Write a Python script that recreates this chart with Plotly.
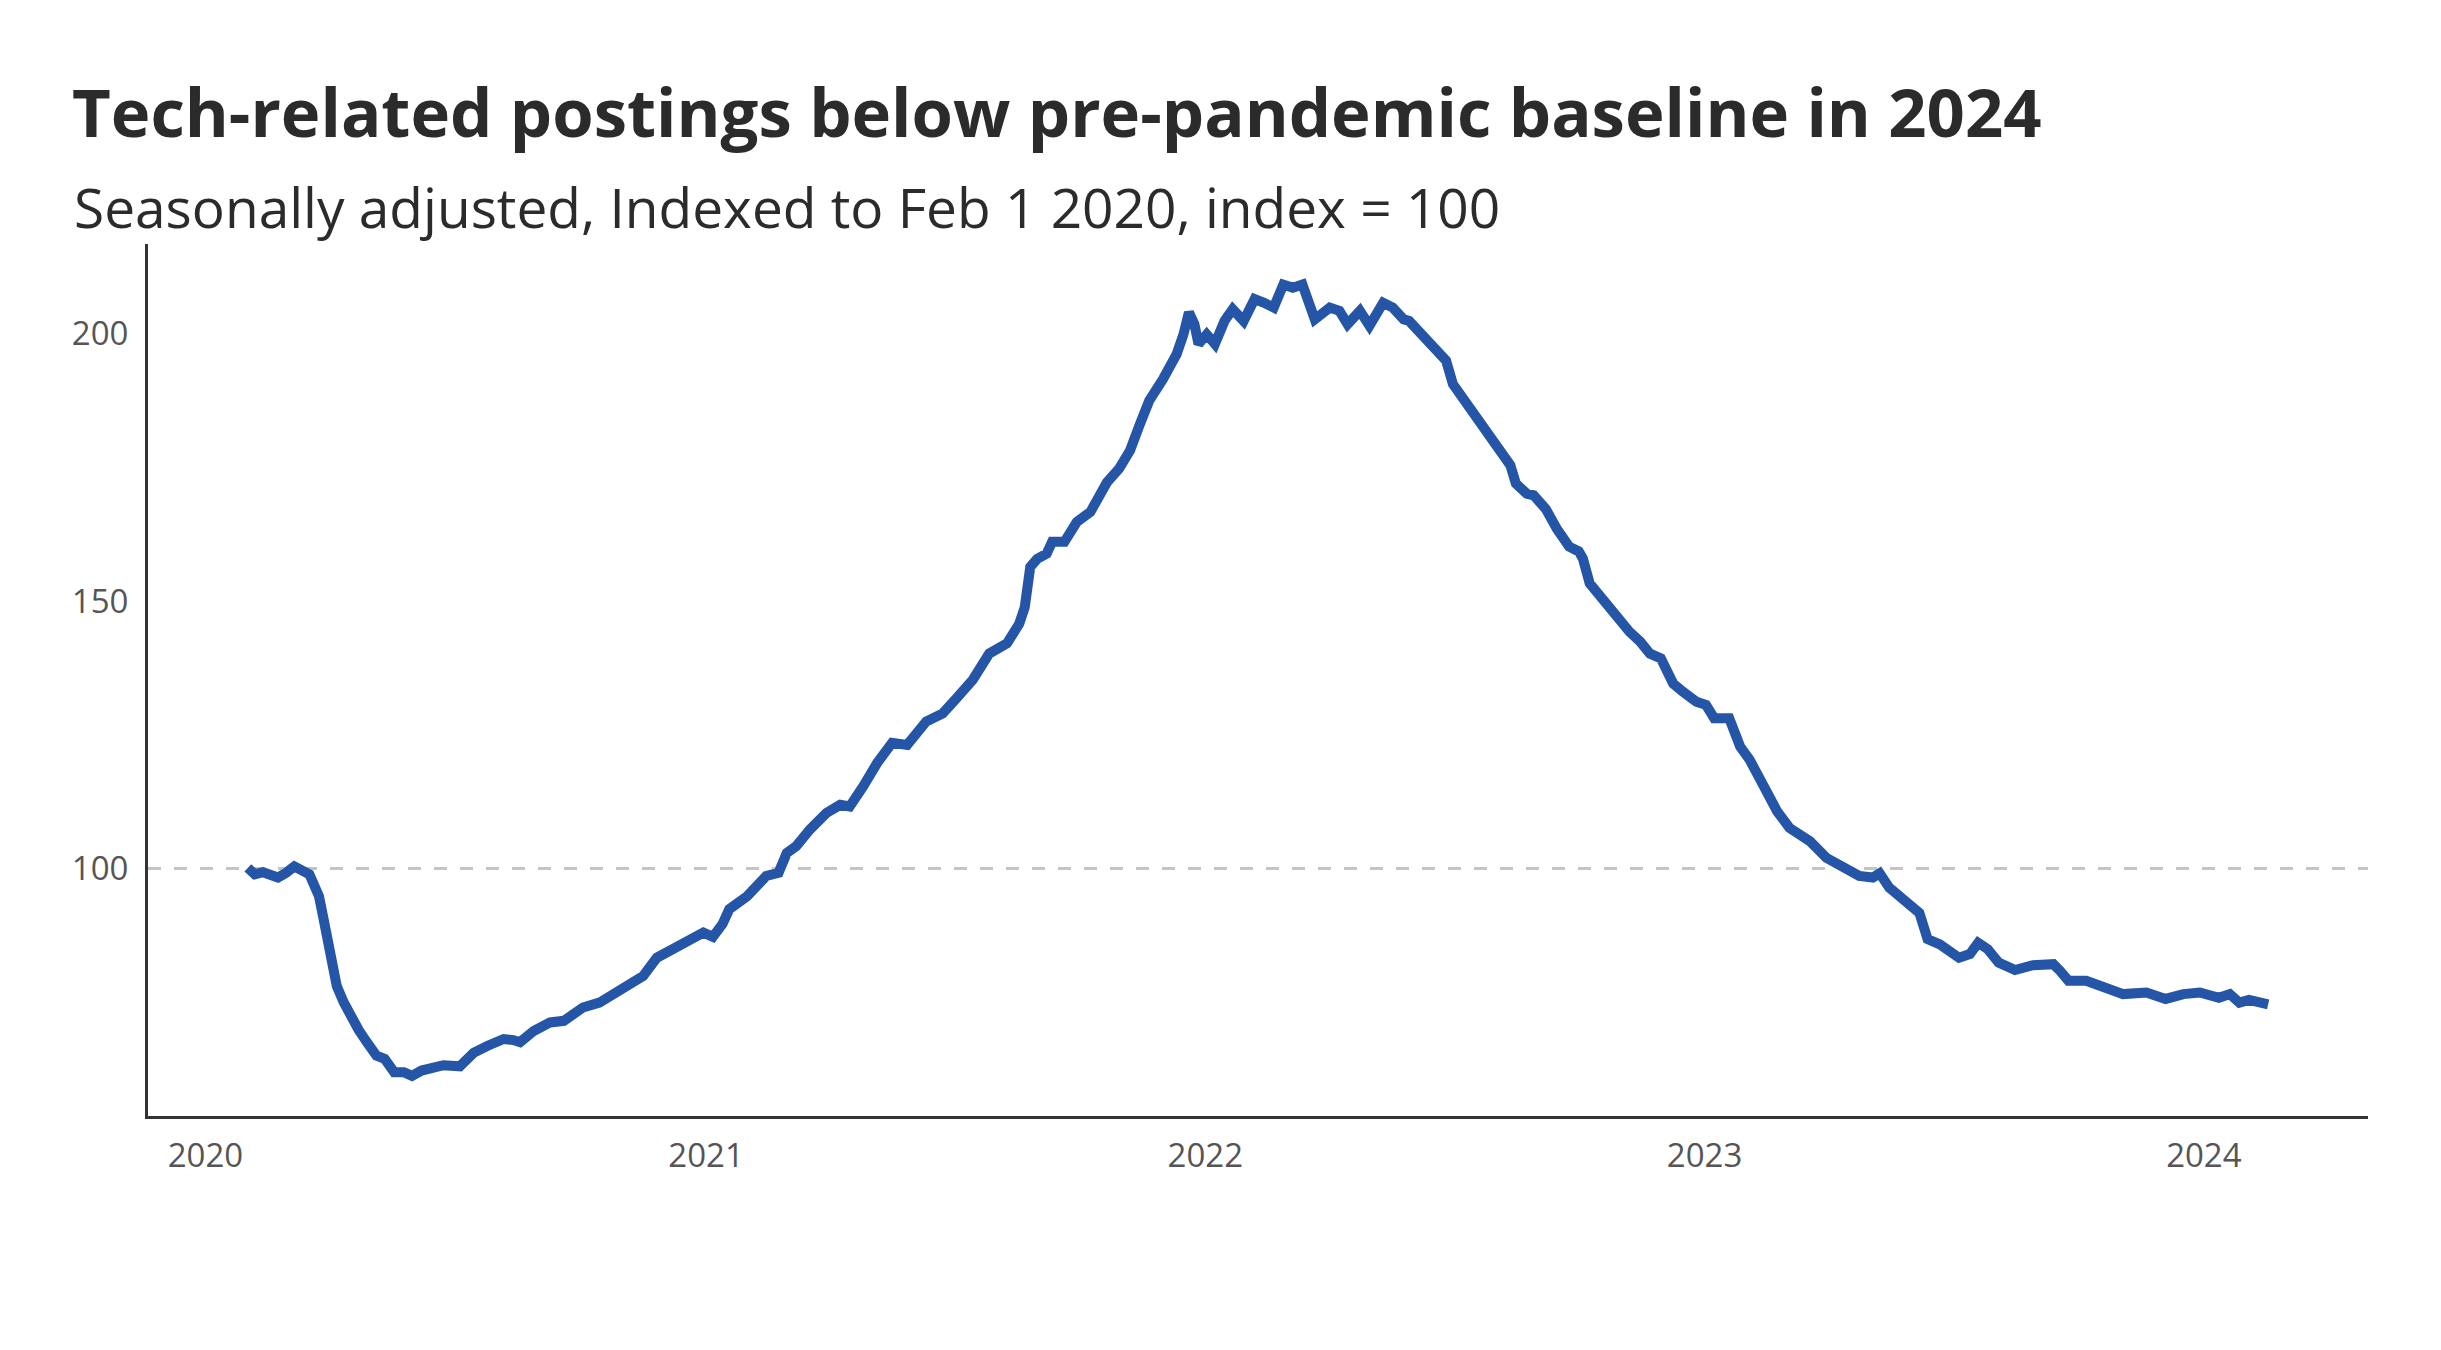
import pandas as pd
import plotly.graph_objects as go

# Data (days since 2020-01-01, index value)
days_since_2020 = [
    31, 36, 42, 53, 59, 65, 76, 80, 83, 86, 89, 92, 96, 101, 106, 112, 118, 125, 131, 138, 145, 151,
    158, 164, 174, 186, 196, 206, 218, 225, 230, 240, 252, 262, 276, 288, 305, 320, 330, 337,
    352, 364, 371, 378, 383, 396, 410, 419, 425, 432, 442, 454, 464, 471, 481, 491, 502, 513,
    527, 539, 549, 561, 573, 586, 595, 599, 603, 608, 615, 619, 628, 637, 647, 659, 668, 676,
    683, 690, 700, 710, 715, 719, 723, 726, 732, 738, 745, 751, 759, 767, 774, 781, 788, 795,
    802, 811, 822, 829, 835, 844, 851, 861, 868, 876, 880, 893, 902, 907, 912, 922, 929, 937,
    946, 954, 958, 966, 971, 980, 988, 997, 1004, 1007, 1012, 1019, 1027, 1034, 1041, 1049,
    1056, 1064, 1073, 1080, 1090, 1097, 1103, 1114, 1122, 1129, 1136, 1142, 1149, 1158, 1173,
    1185, 1197, 1209, 1219, 1224, 1231, 1239, 1246, 1253, 1259, 1268, 1282, 1290, 1296, 1303,
    1311, 1323, 1336, 1351, 1356, 1362, 1375, 1387, 1402, 1419, 1433, 1446, 1458, 1472, 1480,
    1487, 1494, 1508,
]
index_values = [
    100.1, 98.9, 99.3, 98.3, 99.2, 100.4, 98.9, 97.0, 94.8, 91.0, 87.0, 82.5, 78.0, 75.0, 72.4,
    69.8, 67.5, 65.0, 64.4, 61.9, 61.9, 61.2, 62.2, 62.6, 63.2, 63.0, 65.5, 66.8, 68.1, 67.9,
    67.5, 69.6, 71.2, 71.5, 74.0, 74.9, 77.4, 79.9, 83.3, 84.3, 86.4, 88.0, 87.2, 89.6, 92.4,
    94.8, 98.6, 99.2, 102.9, 104.2, 107.3, 110.4, 111.9, 111.6, 115.4, 119.7, 123.5, 123.1,
    127.5, 129.0, 131.8, 135.3, 140.2, 142.1, 145.8, 148.9, 156.4, 157.9, 158.9, 161.1, 161.1,
    164.8, 166.7, 172.2, 174.8, 178.2, 183.0, 187.5, 191.5, 196.2, 199.9, 204.0, 201.8, 198.1,
    199.9, 198.1, 202.4, 204.6, 202.4, 206.5, 205.8, 204.9, 209.2, 208.6, 209.2, 202.7, 204.9,
    204.3, 201.8, 204.3, 201.5, 205.8, 204.9, 202.7, 202.4, 199.0, 196.5, 195.0, 190.6, 186.9,
    184.4, 181.6, 178.2, 175.4, 172.0, 170.1, 169.8, 167.2, 163.5, 160.2, 159.3, 158.0, 153.3,
    151.1, 148.3, 146.8, 144.3, 142.4, 140.2, 139.3, 134.6, 133.1, 131.2, 130.6, 128.1, 128.1,
    122.8, 120.3, 116.6, 113.5, 110.7, 107.6, 105.1, 102.0, 100.1, 98.6, 98.3, 99.1, 96.4, 94.8,
    93.6, 91.7, 86.8, 85.8, 83.3, 84.0, 86.1, 84.9, 82.4, 81.0, 81.9, 82.1, 80.8, 79.0, 79.0,
    78.0, 76.5, 76.8, 75.6, 76.5, 76.8, 75.8, 76.5, 74.9, 75.4, 74.6,
]
year_ticks = ["2020-01-01", "2021-01-01", "2022-01-01", "2023-01-01", "2024-01-01"]
year_labels = ["2020", "2021", "2022", "2023", "2024"]
y_ticks = [100, 150, 200]
baseline = 100

base = pd.Timestamp("2020-01-01")
dates = [base + pd.Timedelta(days=d) for d in days_since_2020]

W, H = 2425, 1334
FONT = "Open Sans, Noto Sans, sans-serif"

fig = go.Figure()
fig.add_trace(go.Scatter(
    x=dates, y=index_values, mode="lines",
    line=dict(color="#2455a6", width=10),
    hoverinfo="x+y", showlegend=False,
))

fig.add_shape(type="line", xref="paper", x0=0, x1=1, yref="y", y0=baseline, y1=baseline,
              line=dict(color="#c4c4c4", width=3, dash="13px,13px"), layer="below")

fig.update_layout(
    width=W, height=H, autosize=False,
    paper_bgcolor="white", plot_bgcolor="white",
    margin=dict(l=140, r=65, t=236, b=226),
    font=dict(family=FONT, color="#555555"),
    title=dict(
        text="<b>Tech-related postings below pre-pandemic baseline in 2024</b>",
        x=64 / W, xanchor="left", xref="container",
        y=1 - 106 / H, yanchor="middle", yref="container",
        font=dict(size=67, color="#2b2b2b", family=FONT),
    ),
    annotations=[dict(
        text="Seasonally adjusted, Indexed to Feb 1 2020, index = 100",
        xref="paper", yref="paper", x=(72 - 148) / 2220, y=(1116 - 207) / 872,
        xanchor="left", yanchor="middle", showarrow=False,
        font=dict(size=55, color="#2b2b2b", family=FONT),
    )],
    xaxis=dict(
        type="date", range=["2019-11-20", "2024-04-30"],
        tickvals=year_ticks, ticktext=year_labels,
        showgrid=False, zeroline=False,
        showline=True, linecolor="#333333", linewidth=3,
        ticks="outside", ticklen=8, tickcolor="rgba(0,0,0,0)",
        tickfont=dict(size=33, color="#555555"),
    ),
    yaxis=dict(
        range=[53.7, 216.8], tickvals=y_ticks,
        showgrid=False, zeroline=False,
        showline=True, linecolor="#333333", linewidth=3,
        ticks="outside", ticklen=10, tickcolor="rgba(0,0,0,0)",
        tickfont=dict(size=33, color="#555555"),
    ),
)

fig.write_html("out.html")
